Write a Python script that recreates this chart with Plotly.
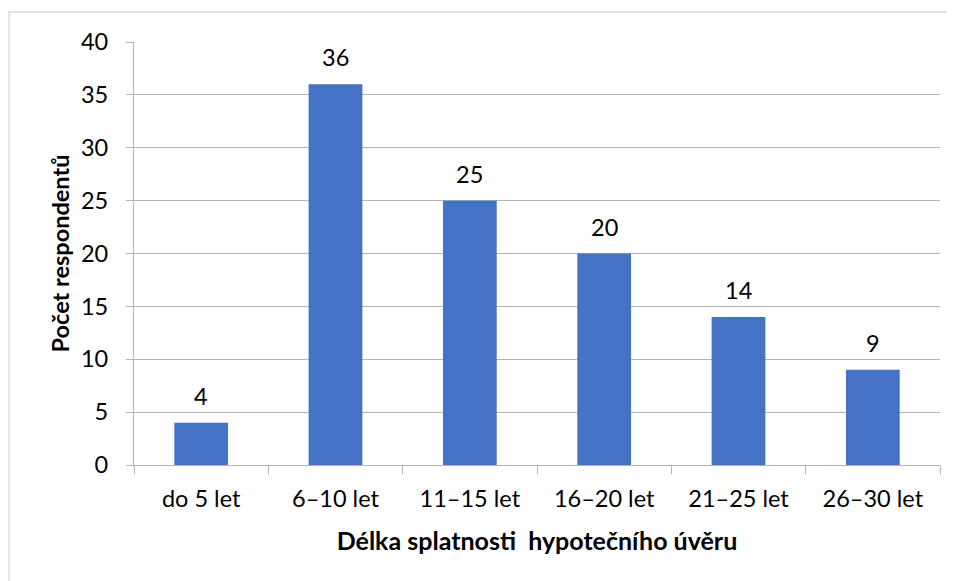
import plotly.graph_objects as go

categories = ["do 5 let", "6–10 let", "11–15 let", "16–20 let", "21–25 let", "26–30 let"]
values = [4, 36, 25, 20, 14, 9]
y_ticks = [0, 5, 10, 15, 20, 25, 30, 35, 40]

FONT = "Lato"
FS = 23.5
GRID = "#B4B4B4"

fig = go.Figure()
fig.add_trace(go.Bar(
    x=categories, y=values,
    marker=dict(color="#4472C4", line=dict(width=0)),
    hoverinfo="x+y",
))

for c, v in zip(categories, values):
    fig.add_annotation(x=c, y=v, text=str(v), showarrow=False,
                       yanchor="bottom", yshift=11,
                       font=dict(family=FONT, size=FS, color="#000000"))

# page body has an 8px margin, so the figure is offset by 8px
W, H = 947, 573
L, R, T, B = 126, 15, 34, 116
pw, ph = W - L - R, H - T - B
fig.add_shape(type="rect", xref="paper", yref="paper",
              x0=(1 - L) / pw, x1=(W + 10 - L) / pw,
              y0=(H - B - (H + 10)) / ph, y1=(H - B - 4) / ph,
              line=dict(color="#D9D9D9", width=1.3), fillcolor="rgba(0,0,0,0)",
              layer="below")

fig.update_layout(
    width=W, height=H,
    margin=dict(l=L, r=R, t=T, b=B),
    paper_bgcolor="white", plot_bgcolor="white",
    bargap=0.6,
    showlegend=False,
    font=dict(family=FONT, size=FS, color="#000000"),
    xaxis=dict(
        type="category",
        tickson="boundaries",
        ticks="outside", ticklen=8, tickcolor=GRID, tickwidth=1.3,
        showline=True, linecolor=GRID, linewidth=1.3,
        showgrid=False,
        ticklabelstandoff=13,
        tickfont=dict(family=FONT, size=FS),
        title=dict(text="<b>Délka splatnosti  hypotečního úvěru</b>",
                   font=dict(family=FONT, size=25), standoff=21),
    ),
    yaxis=dict(
        range=[0, 40], tickvals=y_ticks,
        ticks="outside", ticklen=7, tickcolor=GRID, tickwidth=1.3,
        showline=True, linecolor=GRID, linewidth=1.3,
        showgrid=True, gridcolor=GRID, gridwidth=1.3,
        zeroline=False,
        ticklabelstandoff=13,
        tickfont=dict(family=FONT, size=FS),
        title=dict(text="<b>Počet respondentů</b>",
                   font=dict(family=FONT, size=FS), standoff=4),
    ),
)

fig.write_html("out.html")
